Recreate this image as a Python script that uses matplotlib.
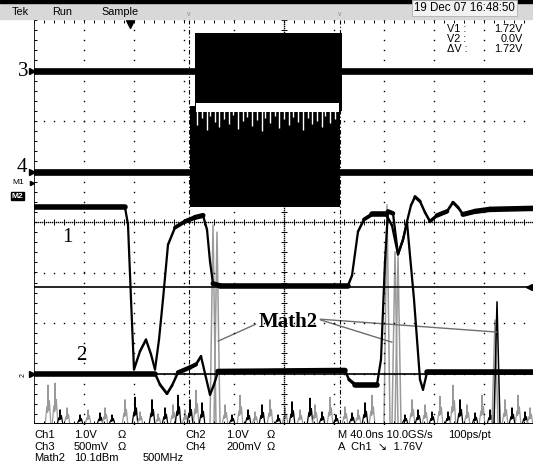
"""Tek capture: Ch1/Ch2 logic edges, Ch3/Ch4 RF bursts and the Math2 FFT."""

import matplotlib

matplotlib.use("Agg")
import matplotlib.pyplot as plt
import numpy as np
from matplotlib.collections import LineCollection
from matplotlib.patches import Rectangle

FIG_W, FIG_H = 533, 468
SANS = ["Liberation Sans", "DejaVu Sans"]
SERIF = "Liberation Serif"

# screen: 10 div x 40 ns, 8 div vertical; Ch1/Ch2 at 1 V/div, ground 3 div below centre
SCREEN_NS = 400.0
CH12_GROUND_DIV = -3.0

CH1_T = [0, 72.8, 75.2, 77.6, 80.0, 84.8, 89.6, 93.6, 96.8, 100.0, 103.2, 107.2,
         112.8, 120.8, 128.8, 135.2, 138.4, 140.8, 143.2, 148.8, 251.2, 254.4,
         259.2, 264.0, 270.4, 281.6, 286.4, 291.2, 295.2, 298.4, 301.6, 304.8,
         308.8, 312.8, 316.8, 322.4, 330.4, 335.2, 339.2, 343.2, 352.8, 364.8, 400.0]
CH1_V = [3.29, 3.29, 2.95, 1.47, 0.08, 0.44, 0.67, 0.38, 0.08, 0.67, 1.47, 2.55,
         2.89, 3.01, 3.09, 3.13, 2.85, 2.22, 1.78, 1.74, 1.74, 1.94,
         2.81, 3.05, 3.15, 3.15, 2.93, 2.36, 2.65, 3.01, 3.33, 3.50,
         3.41, 3.19, 3.01, 3.13, 3.21, 3.39, 3.29, 3.15, 3.21, 3.25, 3.27]

CH2_T = [0, 96.8, 100.8, 106.4, 110.4, 115.2, 124.8, 129.6, 133.6, 136.8, 140.8,
         144.0, 147.2, 248.8, 252.0, 256.8, 274.4, 277.6, 280.8, 283.2, 287.2,
         291.2, 295.2, 298.4, 304.0, 308.8, 311.2, 314.4, 400.0]
CH2_V = [0.0, 0.0, -0.22, -0.40, -0.24, 0.02, 0.12, 0.18, 0.34, 0.0, -0.42,
         -0.22, 0.04, 0.06, -0.12, -0.22, -0.22, 0.28, 2.22, 3.21, 3.17,
         2.36, 2.65, 2.99, 1.47, -0.12, -0.32, 0.02, 0.02]

# Ch3 / Ch4 idle levels (div) and the burst window (ns)
CH3_DIV = 3.0
CH4_DIV = 1.0
CH3_BURST = (128.8, 246.4, 2.20, 3.74)
CH4_BURST = (125.0, 244.8, 0.30, 2.30)
GAP_DIV = (2.18, 2.36)
GAP_SPIKE_T = [130, 134, 138, 141, 145, 148, 152, 156, 159, 163, 167, 170, 174, 178,
               182, 185, 189, 193, 196, 200, 204, 207, 211, 215, 219, 222, 226, 230,
               233, 237, 241]
GAP_SPIKE_DIV = [1.92, 2.06, 1.82, 2.10, 1.98, 1.88, 2.04, 1.94, 2.12, 1.84, 2.00,
                 2.08, 1.90, 2.02, 1.80, 2.06, 1.96, 2.10, 1.86, 2.04, 1.92, 2.08,
                 1.98, 1.82, 2.06, 1.94, 2.00, 1.88, 2.10, 1.96, 2.04]

# Math2 FFT: 500 MHz/div, peak heights in div above the bottom graticule
FFT_F_MHZ = [140, 210, 260, 330, 460, 540, 660, 710, 780, 910, 1010, 1060, 1180,
             1240, 1310, 1390, 1440, 1510, 1560, 1620, 1680, 1910, 1980, 2060,
             2140, 2210, 2280, 2360, 2440, 2510, 2580, 2660, 2760, 2810, 2880,
             2960, 3020, 3110, 3180, 3240, 3310, 3380, 3710, 3780, 3840, 3910,
             3980, 4060, 4140, 4190, 4260, 4330, 4410, 4480, 4560, 4710, 4780,
             4840, 4910, 4960]
FFT_DIV = [0.77, 0.81, 0.28, 0.32, 0.18, 0.28, 0.22, 0.32, 0.18, 0.48, 0.53, 0.24,
           0.48, 0.20, 0.32, 0.38, 0.57, 0.28, 0.48, 0.67, 0.42, 0.38, 0.18, 0.57,
           0.28, 0.24, 0.38, 0.48, 0.18, 0.32, 0.44, 0.28, 0.51, 0.38, 0.24, 0.53,
           0.18, 0.34, 0.22, 0.28, 0.42, 0.57, 0.18, 0.48, 0.28, 0.38, 0.24, 0.55,
           0.24, 0.77, 0.48, 0.38, 0.22, 0.57, 0.28, 0.48, 0.32, 0.57, 0.24, 0.32]
FFT_SHADE = "ggkgkgkgkg" + "kgkgkgkgkg" * 5
FFT_TALL_F = [1790, 1830, 3530, 3610, 3640, 4610, 4630]
FFT_TALL_DIV = [3.94, 3.80, 4.34, 3.41, 3.31, 2.06, 2.42]
FFT_TALL_SHADE = "ggggggk"
MATH2_POINTS_F = [1840, 3580, 4630]
MATH2_POINTS_DIV = [1.64, 1.62, 1.82]

CURSOR_V = [1.72, 0.0]
TIME_MARKS_NS = [124.0, 244.8]
TRIGGER_NS = 76.8

GRAY = "#9a9a9a"


def px(x, y):
    return x / FIG_W, 1 - y / FIG_H


def draw_trace(ax, t, y, thick=4.0, thin=1.6):
    """Flat stretches are drawn as a wide noisy band, fast edges stay thin."""
    t = np.asarray(t, float)
    y = np.asarray(y, float)
    pts = np.column_stack([t, y])
    segs = np.stack([pts[:-1], pts[1:]], axis=1)
    dx = np.abs(np.diff(t)) * 500 / SCREEN_NS
    dy = np.abs(np.diff(y)) * 404 / 8
    slope = dy / np.maximum(dx, 1e-6)
    widths = thin + (thick - thin) / (1 + (slope / 0.6) ** 2)
    ax.add_collection(LineCollection(segs, linewidths=widths, colors="black",
                                     capstyle="round", joinstyle="round", zorder=6))


def draw_peak(ax, f, d, half, color, lw):
    # narrow FFT line with a shoulder on each side
    ax.plot([f - half, f - 0.4 * half, f - 0.15 * half, f, f + 0.2 * half,
             f + 0.5 * half, f + half],
            [0, 0.45 * d, 0.3 * d, d, 0.35 * d, 0.6 * d, 0],
            lw=lw, color=color, zorder=3)


def draw_graticule(ax):
    dot = dict(ls="none", marker="s", ms=1.0, mew=0, color="black", zorder=2)
    minor_y = np.arange(-4, 4.01, 0.2)
    minor_t = np.arange(0, SCREEN_NS + 0.1, 8)
    for k in range(1, 10):
        if k != 5:
            ax.plot(np.full_like(minor_y, k * 40), minor_y, **dot)
    for j in range(-3, 4):
        if j != 0:
            ax.plot(minor_t, np.full_like(minor_t, j), **dot)
    # centre cross, dense dots with ticks
    fine_y = np.arange(-4, 4.01, 0.04)
    fine_t = np.arange(0, SCREEN_NS + 0.1, 1.6)
    ax.plot(np.full_like(fine_y, 200), fine_y, **dot)
    ax.plot(fine_t, np.zeros_like(fine_t), **dot)
    tick = dict(color="black", lw=0.7, zorder=2)
    ax.hlines(minor_y, 200 - 2.4, 200 + 2.4, **tick)
    ax.vlines(minor_t, -0.05, 0.05, **tick)
    # frame ticks
    ax.vlines(minor_t, 4 - 0.06, 4, **tick)
    ax.vlines(minor_t, -4, -4 + 0.06, **tick)
    ax.hlines(minor_y, 0, 2.4, **tick)
    ax.plot([0, 0], [-4, 4], color="black", lw=1.2, zorder=3)
    ax.plot([0, SCREEN_NS], [-4, -4], color="black", lw=1.4, zorder=3)


def main():
    fig = plt.figure(figsize=(FIG_W / 100, FIG_H / 100), dpi=100)
    rect = [34 / FIG_W, 44 / FIG_H, 500 / FIG_W, 404 / FIG_H]

    fft_ax = fig.add_axes(rect)
    fft_ax.set_xlim(0, 5000)
    fft_ax.set_ylim(0, 8)
    fft_ax.axis("off")

    ax = fig.add_axes(rect)
    ax.set_xlim(0, SCREEN_NS)
    ax.set_ylim(-4, 4)
    ax.axis("off")
    ax.patch.set_alpha(0)

    # header strip
    fig.patches.append(Rectangle(px(0, 19), 1, 16 / FIG_H, transform=fig.transFigure,
                                 color="#d8d8d8", zorder=0))
    fig.patches.append(Rectangle(px(0, 3), 1, 3 / FIG_H, transform=fig.transFigure,
                                 color="black", zorder=0))
    head = dict(family=SANS, fontsize=7.8, va="center")
    fig.text(*px(12, 12), "Tek", **head)
    fig.text(*px(52, 12), "Run", **head)
    fig.text(*px(101, 12), "Sample", **head)
    fig.text(*px(414, 8), "19 Dec 07 16:48:50", family=SANS, fontsize=8.3,
             va="center",
             bbox=dict(boxstyle="square,pad=0.15", fc="#f2f2f2", ec="#b0b0b0", lw=0.6))
    for xm in (189, 340):
        fig.text(*px(xm, 15), "v", family=SANS, fontsize=5, color="#8c8c8c",
                 ha="center", va="center")

    draw_graticule(ax)

    # cursors
    for v in CURSOR_V:
        ax.axhline(CH12_GROUND_DIV + v, color="black", lw=1.2, zorder=4)
    for t in TIME_MARKS_NS:
        ax.axvline(t, color="black", lw=0.8, ls=(0, (4, 2, 1, 2)), zorder=4)
    ax.plot(TRIGGER_NS, 3.93, marker="v", ms=6, color="black", clip_on=False, zorder=8)
    ax.plot(SCREEN_NS - 4, CH12_GROUND_DIV + CURSOR_V[0], marker="<", ms=4,
            color="black", zorder=8)

    # Math2 spectrum
    for f, d, s in zip(FFT_F_MHZ, FFT_DIV, FFT_SHADE):
        draw_peak(fft_ax, f, d, 28, GRAY if s == "g" else "black", 0.9)
    for f, d, s in zip(FFT_TALL_F, FFT_TALL_DIV, FFT_TALL_SHADE):
        fft_ax.plot([f - 30, f, f + 30], [0, d, 0], lw=1.1,
                    color=GRAY if s == "g" else "black", zorder=3)

    # Ch3 / Ch4 idle levels and the RF burst
    for level in (CH3_DIV, CH4_DIV):
        ax.plot([0, CH3_BURST[0]], [level, level], color="black", lw=4.8, zorder=5)
        ax.plot([CH3_BURST[1], SCREEN_NS], [level, level], color="black", lw=4.8, zorder=5)
    for t0, t1, lo, hi in (CH3_BURST, CH4_BURST):
        ax.fill_between([t0, t1], lo, hi, color="black", lw=0, zorder=5)
    ax.fill_between([CH3_BURST[0] + 1, CH4_BURST[1] - 1], *GAP_DIV, color="white",
                    lw=0, zorder=5)
    ax.vlines(GAP_SPIKE_T, GAP_SPIKE_DIV, GAP_DIV[1], color="white", lw=1.0, zorder=5)

    # Ch1 / Ch2
    draw_trace(ax, CH2_T, np.array(CH2_V) + CH12_GROUND_DIV)
    draw_trace(ax, CH1_T, np.array(CH1_V) + CH12_GROUND_DIV)

    # Math2 callout
    for i, (f, d) in enumerate(zip(MATH2_POINTS_F, MATH2_POINTS_DIV)):
        fft_ax.annotate("Math2", xy=(f, d), xytext=(2540, 2.02), ha="center",
                        va="center", family=SERIF, fontsize=15, fontweight="bold",
                        color="black" if i == 0 else "none", zorder=9,
                        arrowprops=dict(arrowstyle="-", color="#6e6e6e", lw=1.0,
                                        shrinkA=0, shrinkB=0,
                                        relpos=(0, 0.45) if i == 0 else (1, 0.65)))

    # channel labels and markers
    big = dict(family=SERIF, fontsize=15, ha="center", va="center")
    fig.text(*px(23, 72), "3", **big)
    fig.text(*px(22, 168), "4", **big)
    fig.text(*px(67, 237), "1", **big)
    fig.text(*px(81, 356), "2", **big)
    for level in (CH3_DIV, CH4_DIV):
        ax.plot(-2.0, level, marker=">", ms=4, color="black", clip_on=False)
    ax.plot(-2.0, CH12_GROUND_DIV, marker=">", ms=4, color="black", clip_on=False)
    fig.text(*px(23, 375), "2", family=SANS, fontsize=5, rotation=90,
             ha="center", va="center")
    fig.text(*px(12, 183), "M1", family=SANS, fontsize=6, va="center")
    ax.plot(-2.0, (222 - 183) / 50.5, marker=">", ms=3, color="black", clip_on=False)
    fig.text(*px(12, 196), "M2", family=SANS, fontsize=6, va="center", color="white",
             fontweight="bold",
             bbox=dict(boxstyle="square,pad=0.1", fc="black", ec="black"))

    # cursor readout
    read = dict(family=SANS, fontsize=7.8, va="center")
    for y, name, val in ((29, "V1 :", "1.72V"), (39, "V2 :", "0.0V"),
                         (49, "\u0394V :", "1.72V")):
        fig.text(*px(447, y), name, **read)
        fig.text(*px(523, y), val, ha="right", **read)

    # status lines
    low = dict(family=SANS, fontsize=8, va="center")
    rows = [
        (435, [(34, "Ch1"), (74, "1.0V"), (118, "\u03a9"), (185, "Ch2"), (226, "1.0V"),
               (267, "\u03a9"), (338, "M 40.0ns 10.0GS/s"), (448, "100ps/pt")]),
        (447, [(34, "Ch3"), (74, "500mV"), (118, "\u03a9"), (185, "Ch4"), (226, "200mV"),
               (267, "\u03a9"), (338, "A  Ch1  \u2198  1.76V")]),
        (458, [(34, "Math2"), (74, "10.1dBm"), (143, "500MHz")]),
    ]
    for y, items in rows:
        for x, s in items:
            fig.text(*px(x, y), s, **low)

    fig.savefig("out.png", dpi=100)


if __name__ == "__main__":
    main()
